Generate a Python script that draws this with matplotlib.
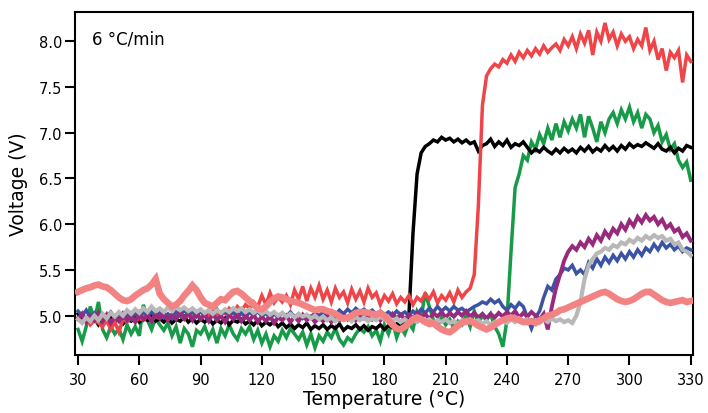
import numpy as np
import matplotlib
matplotlib.use("Agg")
import matplotlib.pyplot as plt

# Temperature grid (°C), one reading every 2 °C
temps = np.arange(30, 331, 2)

black = [
    5.02, 4.95, 4.98, 4.92, 4.97, 4.90, 4.96, 4.93, 4.99, 4.94,
    4.97, 4.91, 4.96, 4.94, 4.99, 4.93, 4.97, 4.95, 5.00, 4.94,
    4.97, 4.93, 4.98, 4.92, 4.96, 4.94, 4.99, 4.93, 4.97, 4.92,
    4.96, 4.93, 4.97, 4.91, 4.95, 4.92, 4.97, 4.90, 4.95, 4.93,
    4.96, 4.91, 4.94, 4.90, 4.95, 4.89, 4.93, 4.90, 4.94, 4.88,
    4.92, 4.87, 4.91, 4.86, 4.90, 4.87, 4.92, 4.85, 4.89, 4.86,
    4.90, 4.85, 4.89, 4.86, 4.91, 4.84, 4.88, 4.86, 4.90, 4.85,
    4.89, 4.84, 4.88, 4.86, 4.90, 4.85, 4.89, 4.87, 4.91, 4.88,
    4.92, 5.00, 5.90, 6.55, 6.78, 6.85, 6.88, 6.92, 6.90, 6.95,
    6.92, 6.94, 6.90, 6.93, 6.89, 6.92, 6.88, 6.90, 6.80, 6.86,
    6.88, 6.93, 6.85, 6.90, 6.86, 6.92, 6.84, 6.88, 6.86, 6.90,
    6.84, 6.78, 6.82, 6.79, 6.84, 6.80, 6.77, 6.82, 6.78, 6.83,
    6.79, 6.82, 6.78, 6.84, 6.80, 6.85, 6.79, 6.83, 6.80, 6.86,
    6.81, 6.85, 6.80, 6.86, 6.82, 6.88, 6.84, 6.87, 6.85, 6.89,
    6.86, 6.83, 6.88, 6.82, 6.80, 6.84, 6.78, 6.83, 6.80, 6.86,
    6.84]

red = [
    4.98, 4.93, 4.97, 4.90, 4.95, 4.92, 4.88, 4.95, 4.85, 4.93,
    4.82, 4.96, 4.93, 4.98, 4.94, 4.97, 4.95, 5.00, 4.96, 4.99,
    4.97, 5.00, 4.95, 5.02, 4.97, 5.01, 4.96, 5.03, 4.98, 5.02,
    4.97, 5.03, 4.99, 5.05, 5.00, 5.04, 5.02, 5.08, 5.03, 5.10,
    5.05, 5.12, 5.08, 5.15, 5.10, 5.22, 5.12, 5.25, 5.14, 5.20,
    5.15, 5.22, 5.12, 5.28, 5.18, 5.32, 5.16, 5.30, 5.20, 5.33,
    5.18, 5.28, 5.15, 5.30, 5.20, 5.26, 5.14, 5.29, 5.18, 5.27,
    5.15, 5.30, 5.20, 5.25, 5.12, 5.22, 5.16, 5.24, 5.13, 5.20,
    5.15, 5.22, 5.12, 5.20, 5.16, 5.24, 5.18, 5.26, 5.14, 5.22,
    5.17, 5.25, 5.15, 5.28, 5.20, 5.26, 5.30, 5.45, 6.20, 7.30,
    7.62, 7.70, 7.75, 7.72, 7.80, 7.76, 7.85, 7.78, 7.88, 7.82,
    7.90, 7.84, 7.92, 7.86, 7.95, 7.88, 7.93, 7.97, 7.90, 8.02,
    7.95, 8.05, 7.92, 8.08, 7.98, 8.12, 7.85, 8.10, 8.00, 8.20,
    8.02, 8.10, 7.95, 8.08, 8.00, 8.05, 7.92, 8.02, 7.95, 8.15,
    7.90, 8.00, 7.80, 7.92, 7.68, 7.88, 7.82, 7.90, 7.55, 7.85,
    7.78]

green = [
    4.85, 4.72, 4.88, 5.10, 4.95, 5.15, 4.85, 4.76, 4.88, 4.80,
    4.86, 4.74, 4.90, 4.80, 4.88, 4.78, 5.12, 4.95, 4.85, 4.98,
    4.90, 4.84, 4.92, 4.78, 4.88, 4.70, 4.86, 4.80, 4.66, 4.84,
    4.80, 4.88, 4.76, 4.85, 4.70, 4.86, 4.78, 4.90, 4.80, 4.74,
    4.86, 4.80, 4.88, 4.74, 4.84, 4.70, 4.80, 4.66, 4.78, 4.72,
    4.84, 4.76, 4.86, 4.80, 4.74, 4.82, 4.68, 4.80, 4.65, 4.78,
    4.72, 4.82, 4.76, 4.86, 4.74, 4.68, 4.76, 4.72, 4.80, 4.86,
    4.82, 4.88, 4.78, 4.84, 4.72, 4.90, 4.80, 4.94, 4.76, 4.88,
    4.80, 4.92, 4.85, 5.05, 4.98, 5.25, 5.10, 4.95, 4.88, 4.98,
    4.90, 4.96, 4.86, 4.94, 4.90, 5.00, 4.88, 5.05, 4.92, 5.00,
    4.95, 5.02, 4.88, 4.80, 4.66, 4.95, 5.70, 6.40, 6.55, 6.75,
    6.70, 6.90, 6.82, 6.98, 6.88, 7.05, 6.92, 7.10, 6.95, 7.12,
    7.02, 7.15, 7.05, 7.20, 6.95, 7.18, 7.05, 6.90, 7.12, 7.00,
    7.15, 7.22, 7.10, 7.25, 7.15, 7.28, 7.12, 7.22, 7.05, 7.20,
    7.15, 7.00, 7.08, 6.90, 6.98, 6.82, 6.88, 6.70, 6.62, 6.68,
    6.48]

blue = [
    5.05, 5.00, 5.06, 4.98, 5.03, 4.97, 5.02, 4.99, 5.04, 4.98,
    5.02, 4.97, 5.01, 4.96, 5.03, 4.98, 5.05, 5.00, 5.04, 4.99,
    5.03, 4.98, 5.02, 4.97, 5.04, 5.00, 5.06, 5.01, 5.04, 4.99,
    5.05, 5.00, 5.06, 5.02, 5.07, 5.01, 5.05, 5.00, 5.04, 4.98,
    5.03, 4.98, 5.04, 5.00, 5.05, 4.99, 5.03, 4.97, 5.02, 4.98,
    5.03, 4.99, 5.04, 4.98, 5.02, 4.97, 5.01, 4.98, 5.03, 5.00,
    5.04, 5.00, 5.05, 5.01, 5.06, 5.02, 5.07, 5.03, 5.08, 5.04,
    5.07, 5.03, 5.06, 5.02, 5.05, 5.01, 5.04, 5.00, 5.05, 5.01,
    5.04, 5.00, 5.05, 5.01, 5.07, 5.03, 5.08, 5.04, 5.10, 5.05,
    5.09, 5.05, 5.10, 5.06, 5.08, 5.04, 5.07, 5.10, 5.12, 5.15,
    5.13, 5.18, 5.14, 5.17, 5.10, 5.06, 5.12, 5.08, 5.14, 5.10,
    4.98, 4.86, 4.98, 5.05, 5.20, 5.32, 5.28, 5.40, 5.45, 5.52,
    5.50, 5.55, 5.46, 5.50, 5.45, 5.58, 5.52, 5.62, 5.55, 5.64,
    5.58, 5.66, 5.60, 5.68, 5.62, 5.70, 5.64, 5.72, 5.66, 5.74,
    5.70, 5.78, 5.72, 5.80, 5.74, 5.78, 5.72, 5.76, 5.70, 5.74,
    5.72]

purple = [
    4.96, 5.02, 4.93, 5.00, 4.95, 5.03, 4.94, 5.01, 4.92, 4.99,
    4.94, 5.02, 4.95, 5.00, 4.93, 5.03, 4.96, 5.01, 4.94, 5.02,
    4.97, 5.03, 4.95, 5.01, 4.96, 5.04, 4.97, 5.02, 4.95, 5.03,
    4.96, 5.01, 4.94, 5.02, 4.95, 5.00, 4.93, 5.01, 4.96, 5.02,
    4.94, 5.00, 4.95, 5.01, 4.93, 4.99, 4.94, 5.00, 4.92, 4.98,
    4.95, 5.00, 4.93, 4.99, 4.94, 5.01, 4.95, 4.99, 4.93, 4.98,
    4.94, 4.99, 4.93, 5.00, 4.95, 5.01, 4.96, 5.02, 4.95, 5.00,
    4.97, 5.02, 4.96, 5.01, 4.95, 5.00, 4.96, 5.02, 4.97, 5.01,
    4.96, 5.01, 4.97, 5.03, 4.98, 5.02, 4.96, 5.03, 4.99, 5.04,
    4.98, 5.03, 4.99, 5.04, 5.00, 5.05, 4.99, 5.03, 4.98, 5.02,
    4.97, 5.02, 4.98, 5.03, 4.99, 5.04, 5.00, 5.05, 4.98, 5.03,
    4.99, 5.04, 5.00, 4.96, 5.02, 4.85, 5.10, 5.30, 5.45, 5.60,
    5.70, 5.76, 5.72, 5.80, 5.75, 5.84, 5.78, 5.88, 5.82, 5.92,
    5.86, 5.95, 5.90, 6.00, 5.94, 6.04, 5.98, 6.08, 6.02, 6.10,
    6.04, 6.08, 6.00, 6.05, 5.96, 6.00, 5.92, 5.95, 5.86, 5.90,
    5.82]

gray = [
    4.96, 4.92, 4.98, 4.94, 5.00, 4.95, 5.02, 4.97, 5.03, 4.99,
    5.04, 5.00, 5.06, 5.02, 5.07, 5.03, 5.08, 5.04, 5.10, 5.05,
    5.08, 5.04, 5.09, 5.05, 5.10, 5.06, 5.09, 5.05, 5.08, 5.04,
    5.07, 5.03, 5.06, 5.02, 5.06, 5.03, 5.07, 5.04, 5.08, 5.05,
    5.08, 5.04, 5.07, 5.03, 5.06, 5.02, 5.05, 5.01, 5.04, 5.00,
    5.03, 4.99, 5.02, 4.98, 5.02, 4.99, 5.01, 4.97, 5.00, 4.96,
    4.99, 4.95, 4.98, 4.94, 4.97, 4.95, 4.98, 4.94, 4.99, 4.95,
    4.98, 4.94, 4.97, 4.95, 4.99, 4.96, 4.98, 4.94, 4.97, 4.93,
    4.96, 4.92, 4.95, 4.93, 4.97, 4.94, 4.96, 4.92, 4.95, 4.93,
    4.96, 4.92, 4.94, 4.91, 4.95, 4.92, 4.96, 4.93, 4.95, 4.91,
    4.94, 4.90, 4.93, 4.91, 4.95, 4.92, 4.96, 4.93, 4.97, 4.94,
    4.96, 4.93, 4.95, 4.92, 4.96, 4.93, 4.97, 4.94, 4.96, 4.93,
    4.95, 4.92, 5.00, 5.15, 5.40, 5.55, 5.62, 5.68, 5.70, 5.74,
    5.72, 5.77, 5.75, 5.80, 5.78, 5.83, 5.80, 5.85, 5.82, 5.87,
    5.84, 5.88, 5.85, 5.87, 5.82, 5.84, 5.78, 5.80, 5.72, 5.70,
    5.66]

pink = [
    5.26, 5.28, 5.30, 5.31, 5.33, 5.34, 5.32, 5.31, 5.28, 5.24,
    5.20, 5.17, 5.16, 5.18, 5.22, 5.25, 5.28, 5.30, 5.34, 5.40,
    5.24, 5.18, 5.14, 5.10, 5.12, 5.16, 5.22, 5.27, 5.33, 5.28,
    5.20, 5.14, 5.12, 5.10, 5.14, 5.18, 5.17, 5.22, 5.26, 5.27,
    5.24, 5.20, 5.16, 5.12, 5.08, 5.07, 5.10, 5.15, 5.19, 5.21,
    5.20, 5.18, 5.16, 5.15, 5.14, 5.12, 5.10, 5.08, 5.06, 5.07,
    5.07, 5.05, 5.04, 5.02, 4.99, 4.97, 4.98, 5.00, 5.03, 5.04,
    5.04, 5.03, 5.02, 5.01, 5.03, 5.00, 4.95, 4.90, 4.86, 4.85,
    4.88, 4.92, 4.96, 4.98, 4.96, 4.93, 4.91, 4.92, 4.88, 4.85,
    4.83, 4.82, 4.85, 4.89, 4.92, 4.94, 4.94, 4.92, 4.89, 4.87,
    4.85, 4.87, 4.90, 4.93, 4.95, 4.97, 4.98, 4.97, 4.95, 4.93,
    4.93, 4.94, 4.92, 4.95, 4.97, 5.00, 5.01, 5.03, 5.06, 5.07,
    5.09, 5.11, 5.13, 5.15, 5.17, 5.19, 5.21, 5.23, 5.25, 5.26,
    5.24, 5.21, 5.18, 5.16, 5.15, 5.16, 5.18, 5.21, 5.24, 5.26,
    5.26, 5.23, 5.20, 5.17, 5.15, 5.14, 5.15, 5.16, 5.17, 5.15,
    5.16]

series = [
    (green, "#179B48", 2.5),
    (black, "#000000", 2.5),
    (red, "#EF4548", 2.5),
    (blue, "#3A53A4", 2.5),
    (purple, "#972A7D", 2.8),
    (gray, "#B8B8B8", 3.0),
    (pink, "#F38383", 4.8),
]

x_ticks = [30, 60, 90, 120, 150, 180, 210, 240, 270, 300, 330]
y_ticks = [5.0, 5.5, 6.0, 6.5, 7.0, 7.5, 8.0]

fig = plt.figure(figsize=(7.08, 4.14), dpi=100)
ax = fig.add_axes([0.1059, 0.1401, 0.8729, 0.8285])

for z, (vals, col, lw) in enumerate(series):
    ax.plot(temps, vals, color=col, lw=lw, zorder=2 + z, solid_joinstyle="miter")

ax.set_xlim(28.5, 331.1)
ax.set_ylim(4.57, 8.32)
ax.set_xticks(x_ticks)
ax.set_yticks(y_ticks)
ax.set_yticklabels([f"{v:.1f}" for v in y_ticks])
ax.tick_params(direction="out", length=7, width=1.5, labelsize=10.5,
               top=False, right=False, colors="black")
ax.tick_params(axis="y", pad=2)
ax.tick_params(axis="x", pad=5)
for s in ax.spines.values():
    s.set_linewidth(1.5)

ax.set_xlabel("Temperature (\u00b0C)", fontsize=13.5, labelpad=2)
ax.set_ylabel("Voltage (V)", fontsize=13.5, labelpad=8)
ax.text(0.028, 0.95, "6 \u00b0C/min", transform=ax.transAxes, fontsize=12,
        va="top", ha="left")

fig.savefig("out.png", dpi=100)
